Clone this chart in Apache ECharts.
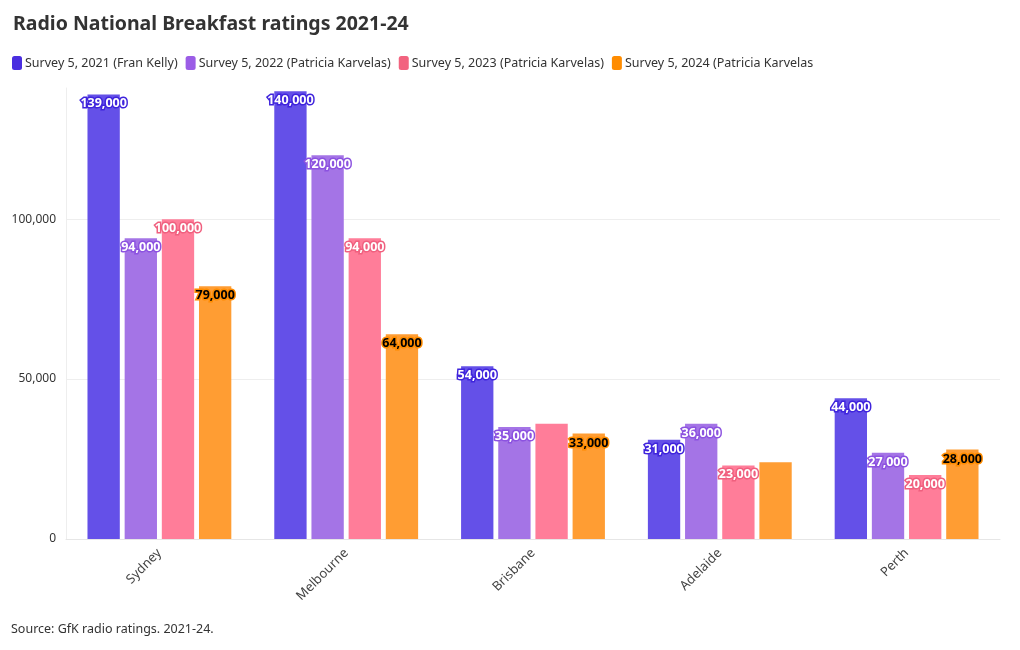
<!DOCTYPE html>
<html><head><meta charset="utf-8">
<script src="https://cdn.jsdelivr.net/npm/echarts@6/dist/echarts.min.js"></script>
<style>html,body{margin:0;padding:0;background:#fff}#c{width:1020px;height:650px}</style>
</head><body><div id="c"></div>
<script>
const categories = ["Sydney", "Melbourne", "Brisbane", "Adelaide", "Perth"];
const seriesNames = ["Survey 5, 2021 (Fran Kelly)", "Survey 5, 2022 (Patricia Karvelas)", "Survey 5, 2023 (Patricia Karvelas)", "Survey 5, 2024 (Patricia Karvelas"];
const s2021 = [139000, 140000, 54000, 31000, 44000];
const s2022 = [94000, 120000, 35000, 36000, 27000];
const s2023 = [100000, 94000, 36000, 23000, 20000];
const s2024 = [79000, 64000, 33000, 24000, 28000];
const yTicks = [0, 50000, 100000];
// labels hidden in the original (index per series)
const hiddenLabels = [[], [], [2], [3]];

const barColors = ["#6450e8", "#a474e6", "#ff7d99", "#ff9d33"];
const legendColors = ["#4a2ee0", "#9b5de6", "#f2637f", "#ff8c00"];
const labelText = ["#fff", "#fff", "#fff", "#000"];
const labelBorder = ["#3f24dc", "#8c52e0", "#f0607f", "#ff8c00"];
const allData = [s2021, s2022, s2023, s2024];

const fmt = v => v.toLocaleString('en-US');
const FONT = '"Noto Sans", sans-serif';

const chart = echarts.init(document.getElementById('c'), null, {renderer: 'canvas'});
chart.setOption({
  animation: false,
  textStyle: {fontFamily: FONT},
  title: {
    text: "Radio National Breakfast ratings 2021-24",
    left: 8, top: 9,
    textStyle: {fontFamily: FONT, fontSize: 19.5, fontWeight: 'bold', color: '#333'}
  },
  legend: {
    left: 7, top: 51, itemWidth: 10, itemHeight: 14, itemGap: 8,
    icon: 'roundRect',
    textStyle: {fontFamily: FONT, fontSize: 12.5, color: '#333', padding: [0, 0, 0, -2]},
    data: seriesNames.map((n, i) => ({name: n, itemStyle: {color: legendColors[i]}}))
  },
  grid: {left: 66, right: 20, top: 88, bottom: 111, containLabel: false},
  xAxis: {
    type: 'category', data: categories,
    axisLine: {lineStyle: {color: '#e6e6e6'}},
    axisTick: {show: false},
    axisLabel: {rotate: 45, color: '#444', fontSize: 13, fontFamily: FONT, margin: 12}
  },
  yAxis: {
    type: 'value', min: 0, max: 141000, interval: 50000,
    axisLine: {show: true, lineStyle: {color: '#eeeeee'}},
    axisTick: {show: false},
    splitLine: {showMaxLine: false, lineStyle: {color: ['#eeeeee', '#eeeeee', '#eeeeee', 'rgba(255,255,255,0)']}},
    axisLabel: {
      color: '#333', fontSize: 12, fontFamily: FONT, margin: 10,
      formatter: v => yTicks.includes(v) ? fmt(v) : ''
    }
  },
  series: allData.map((arr, i) => ({
    name: seriesNames[i], type: 'bar',
    barGap: '15%', barCategoryGap: '23%',
    itemStyle: {color: barColors[i]},
    data: arr.map((v, j) => hiddenLabels[i].includes(j) ? {value: v, label: {show: false}} : v),
    label: {
      show: true, position: 'insideTop', distance: 3,
      formatter: p => fmt(p.value),
      color: labelText[i], fontSize: 12.5, fontWeight: 'bold', fontFamily: FONT,
      textBorderColor: labelBorder[i], textBorderWidth: 3
    }
  })),
  graphic: [{
    type: 'text', left: 11, top: 623,
    style: {text: "Source: GfK radio ratings. 2021-24.", fontFamily: FONT, fontSize: 12.5, fill: '#333'}
  }]
});
</script></body></html>
